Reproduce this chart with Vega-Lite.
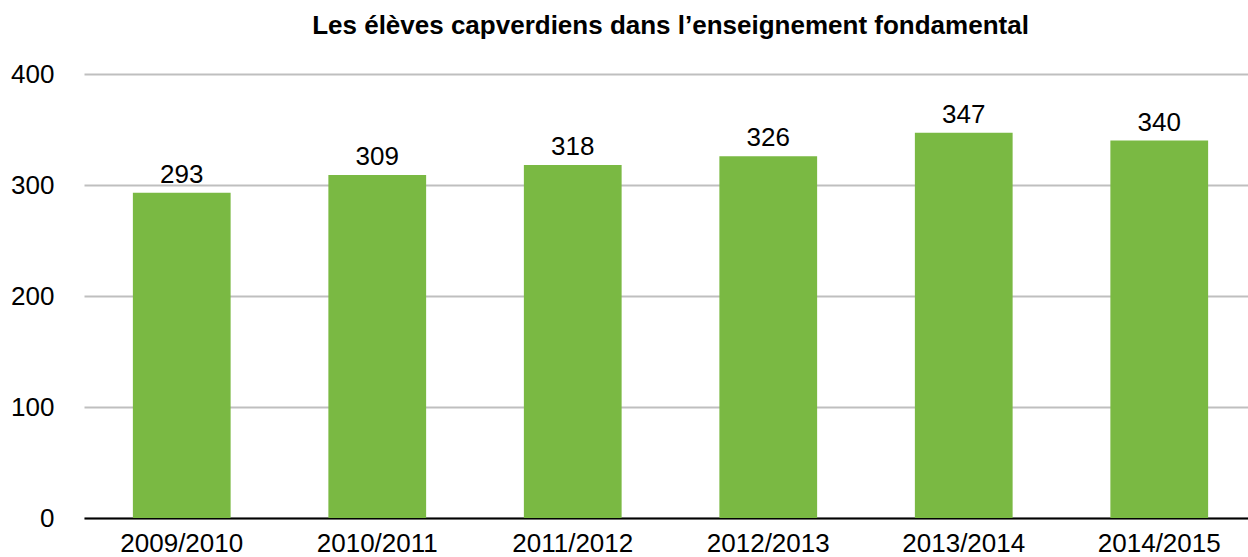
{
  "$schema": "https://vega.github.io/schema/vega-lite/v6.json",
  "autosize": "none",
  "width": 1173,
  "height": 444,
  "padding": {"left": 84, "top": 74, "right": 0, "bottom": 39},
  "background": "white",
  "title": {
    "text": "Les élèves capverdiens dans l’enseignement fondamental",
    "font": "Liberation Sans",
    "fontSize": 26,
    "fontWeight": "bold",
    "color": "black",
    "anchor": "middle",
    "offset": 22
  },
  "config": {
    "view": {"stroke": null},
    "font": "Liberation Sans"
  },
  "data": {
    "values": [
      {"annee": "2009/2010", "eleves": 293},
      {"annee": "2010/2011", "eleves": 309},
      {"annee": "2011/2012", "eleves": 318},
      {"annee": "2012/2013", "eleves": 326},
      {"annee": "2013/2014", "eleves": 347},
      {"annee": "2014/2015", "eleves": 340}
    ]
  },
  "encoding": {
    "x": {
      "field": "annee",
      "type": "nominal",
      "sort": null,
      "scale": {"paddingInner": 0.5, "paddingOuter": 0.25},
      "axis": {
        "title": null,
        "labelAngle": 0,
        "labelFont": "Liberation Sans",
        "labelFontSize": 26,
        "labelColor": "black",
        "labelPadding": 12,
        "ticks": false,
        "domainColor": "black",
        "domainWidth": 2,
        "grid": false
      }
    },
    "y": {
      "field": "eleves",
      "type": "quantitative",
      "scale": {"domain": [0, 400]},
      "axis": {
        "title": null,
        "values": [0, 100, 200, 300, 400],
        "labelFont": "Liberation Sans",
        "labelFontSize": 26,
        "labelColor": "black",
        "labelPadding": 30,
        "ticks": false,
        "domain": false,
        "grid": true,
        "gridColor": "#BFBFBF",
        "gridWidth": 2
      }
    }
  },
  "layer": [
    {"mark": {"type": "bar", "color": "#7AB943"}},
    {
      "mark": {
        "type": "text",
        "baseline": "alphabetic",
        "dy": -10,
        "font": "Liberation Sans",
        "fontSize": 26,
        "color": "black"
      },
      "encoding": {"text": {"field": "eleves", "type": "quantitative"}}
    }
  ]
}
